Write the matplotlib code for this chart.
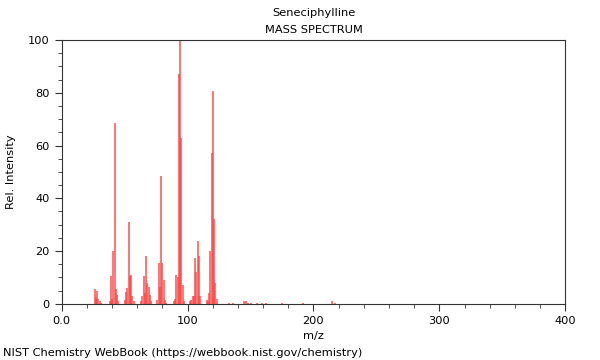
import numpy as np
import matplotlib
matplotlib.use('Agg')
import matplotlib.pyplot as plt
from matplotlib.ticker import MultipleLocator, FixedLocator, FixedFormatter

compound = 'Seneciphylline'

# peaks (m/z, relative intensity)
mz = [26, 27, 28, 29, 30, 31,
      38, 39, 40, 41, 42, 43, 44, 45,
      50, 51, 52, 53, 54, 55, 56, 57,
      63, 64, 65, 66, 67, 68, 69, 70, 71,
      76, 77, 78, 79, 80, 81, 82, 83,
      89, 90, 91, 92, 93, 94, 95, 96, 97,
      102, 103, 104, 105, 106, 107, 108, 109, 110,
      115, 116, 117, 118, 119, 120, 121, 122, 123,
      133, 136, 145, 146, 148, 150, 155, 159, 162, 175, 192, 215, 217]
intensity = [5.5, 2.5, 5.0, 2.0, 1.0, 0.5,
             1.0, 10.5, 2.0, 20.0, 68.5, 5.5, 3.5, 1.0,
             1.5, 4.5, 6.0, 31.0, 10.5, 11.0, 3.0, 1.0,
             1.0, 3.0, 10.5, 4.0, 18.0, 8.0, 6.5, 3.5, 1.0,
             1.5, 15.5, 6.5, 48.5, 15.5, 9.0, 1.5, 0.5,
             1.0, 2.0, 11.0, 10.0, 87.0, 100.0, 63.0, 7.0, 1.0,
             1.0, 1.5, 3.0, 3.0, 17.5, 12.0, 24.0, 18.0, 3.0,
             1.5, 1.0, 4.0, 20.0, 57.0, 80.5, 32.0, 8.0, 2.0,
             0.5, 0.5, 1.0, 1.0, 0.5, 0.5, 0.5, 0.3, 0.5, 0.3, 0.3, 1.0, 0.5]

fig = plt.figure(figsize=(6, 3.6), dpi=100)
ax = fig.add_axes([0.103, 0.156, 0.839, 0.733])

ax.vlines(mz, 0, intensity, color='#ff4040', lw=1.2, alpha=0.85)

ax.set_xlim(0, 400)
ax.set_ylim(0, 100)
ax.xaxis.set_major_locator(FixedLocator([0, 100, 200, 300, 400]))
ax.xaxis.set_major_formatter(FixedFormatter(['0.0', '100', '200', '300', '400']))
ax.xaxis.set_minor_locator(MultipleLocator(20))
ax.yaxis.set_major_locator(MultipleLocator(20))
ax.yaxis.set_minor_locator(MultipleLocator(5))
ax.tick_params(which='both', direction='out', labelsize=8.2, color='#333333')
ax.tick_params(which='major', length=5)
ax.tick_params(which='minor', length=3)
for s in ax.spines.values():
    s.set_color('#333333')

ax.set_xlabel('m/z', fontsize=8.2)
ax.set_ylabel('Rel. Intensity', fontsize=8.2, labelpad=9)
fig.text(0.523, 0.964, compound, fontsize=8.2, ha='center', va='center')
fig.text(0.523, 0.917, 'MASS SPECTRUM', fontsize=8.2, ha='center', va='center')

fig.text(0.005, 0.01, 'NIST Chemistry WebBook (https://webbook.nist.gov/chemistry)', fontsize=8.2)

fig.savefig('out.png', dpi=100)
